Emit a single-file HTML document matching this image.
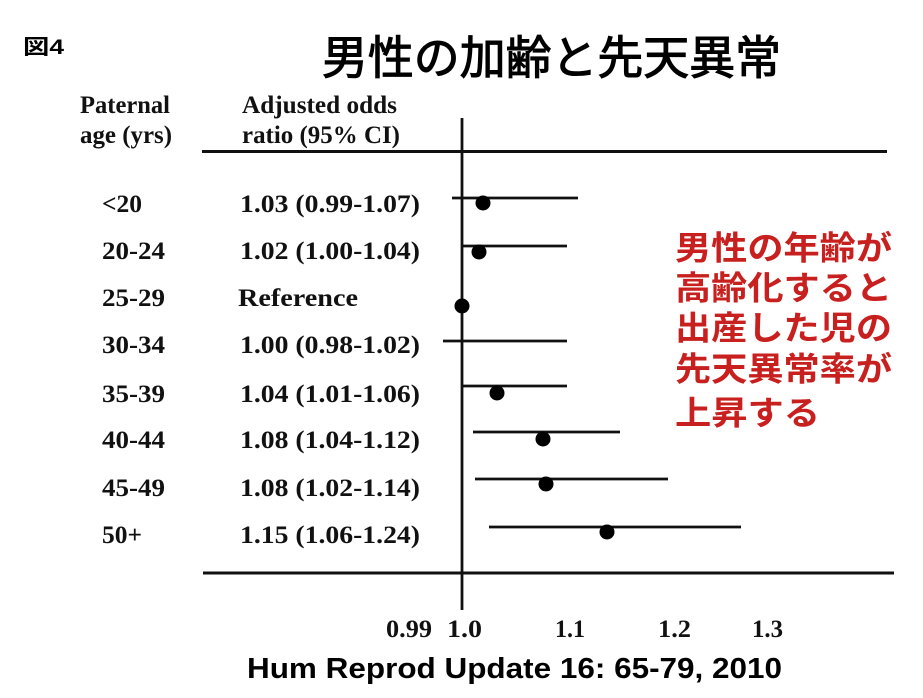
<!DOCTYPE html>
<html>
<head>
<meta charset="utf-8">
<style>
  html, body { margin:0; padding:0; background:#fff; }
  svg { display:block; }
  .serif { font-family:"Liberation Serif","Times New Roman",serif; font-weight:bold; fill:#111; }
  .sans { font-family:"Liberation Sans","Noto Sans CJK JP",sans-serif; font-weight:bold; fill:#000; }
  .jp { font-family:"Noto Sans CJK JP","Liberation Sans",sans-serif; font-weight:bold; }
  .jpr { font-family:"Noto Sans CJK JP","Liberation Sans",sans-serif; font-weight:normal; }
</style>
</head>
<body>
<svg width="923" height="698" viewBox="0 0 923 698" xmlns="http://www.w3.org/2000/svg">
  <rect width="923" height="698" fill="#fff"/>

  <!-- figure label -->
  <text class="sans" x="23" y="54" font-size="21" textLength="41" lengthAdjust="spacingAndGlyphs">図4</text>

  <!-- title -->
  <text class="jpr" x="322" y="74" font-size="46" fill="#000" stroke="#000" stroke-width="1.1" textLength="459" lengthAdjust="spacingAndGlyphs">男性の加齢と先天異常</text>

  <!-- headers -->
  <text class="serif" x="80" y="113" font-size="25" textLength="90" lengthAdjust="spacingAndGlyphs">Paternal</text>
  <text class="serif" x="80" y="143" font-size="25" textLength="92" lengthAdjust="spacingAndGlyphs">age (yrs)</text>
  <text class="serif" x="242" y="113" font-size="25" textLength="155" lengthAdjust="spacingAndGlyphs">Adjusted odds</text>
  <text class="serif" x="242" y="143" font-size="25" textLength="158" lengthAdjust="spacingAndGlyphs">ratio (95% CI)</text>

  <!-- frame lines -->
  <line x1="202" y1="151.5" x2="887" y2="151.5" stroke="#111" stroke-width="3"/>
  <line x1="203" y1="573" x2="894" y2="573" stroke="#111" stroke-width="3"/>
  <line x1="462" y1="118" x2="462" y2="610" stroke="#111" stroke-width="2.8"/>

  <!-- row labels -->
  <text class="serif" x="102" y="212" font-size="25" textLength="40" lengthAdjust="spacingAndGlyphs">&lt;20</text>
  <text class="serif" x="102" y="259" font-size="25" textLength="63" lengthAdjust="spacingAndGlyphs">20-24</text>
  <text class="serif" x="102" y="306" font-size="25" textLength="63" lengthAdjust="spacingAndGlyphs">25-29</text>
  <text class="serif" x="102" y="353" font-size="25" textLength="63" lengthAdjust="spacingAndGlyphs">30-34</text>
  <text class="serif" x="102" y="402" font-size="25" textLength="63" lengthAdjust="spacingAndGlyphs">35-39</text>
  <text class="serif" x="102" y="448" font-size="25" textLength="63" lengthAdjust="spacingAndGlyphs">40-44</text>
  <text class="serif" x="102" y="496" font-size="25" textLength="63" lengthAdjust="spacingAndGlyphs">45-49</text>
  <text class="serif" x="102" y="543" font-size="25" textLength="40" lengthAdjust="spacingAndGlyphs">50+</text>

  <!-- values -->
  <text class="serif" x="240" y="212" font-size="25" textLength="180" lengthAdjust="spacingAndGlyphs">1.03 (0.99-1.07)</text>
  <text class="serif" x="240" y="259" font-size="25" textLength="180" lengthAdjust="spacingAndGlyphs">1.02 (1.00-1.04)</text>
  <text class="serif" x="238" y="306" font-size="25" textLength="120" lengthAdjust="spacingAndGlyphs">Reference</text>
  <text class="serif" x="240" y="353" font-size="25" textLength="180" lengthAdjust="spacingAndGlyphs">1.00 (0.98-1.02)</text>
  <text class="serif" x="240" y="402" font-size="25" textLength="180" lengthAdjust="spacingAndGlyphs">1.04 (1.01-1.06)</text>
  <text class="serif" x="240" y="448" font-size="25" textLength="180" lengthAdjust="spacingAndGlyphs">1.08 (1.04-1.12)</text>
  <text class="serif" x="240" y="496" font-size="25" textLength="180" lengthAdjust="spacingAndGlyphs">1.08 (1.02-1.14)</text>
  <text class="serif" x="240" y="543" font-size="25" textLength="180" lengthAdjust="spacingAndGlyphs">1.15 (1.06-1.24)</text>

  <!-- error bars -->
  <g stroke="#111" stroke-width="2.8">
    <line x1="452" y1="198" x2="578" y2="198"/>
    <line x1="462" y1="246" x2="567" y2="246"/>
    <line x1="443" y1="341" x2="567" y2="341"/>
    <line x1="462" y1="386" x2="567" y2="386"/>
    <line x1="473" y1="432" x2="620" y2="432"/>
    <line x1="475" y1="479" x2="668" y2="479"/>
    <line x1="489" y1="527" x2="741" y2="527"/>
  </g>
  <!-- points -->
  <g fill="#000">
    <circle cx="483" cy="203" r="7.5"/>
    <circle cx="479" cy="252" r="7.5"/>
    <circle cx="462" cy="306" r="7.5"/>
    <circle cx="497" cy="393" r="7.5"/>
    <circle cx="543" cy="439" r="7.5"/>
    <circle cx="546" cy="484" r="7.5"/>
    <circle cx="607" cy="532" r="7.5"/>
  </g>

  <!-- tick labels -->
  <text class="serif" x="386" y="637" font-size="25" textLength="46" lengthAdjust="spacingAndGlyphs">0.99</text>
  <text class="serif" x="447" y="637" font-size="25" textLength="35" lengthAdjust="spacingAndGlyphs">1.0</text>
  <text class="serif" x="555" y="637" font-size="25" textLength="30" lengthAdjust="spacingAndGlyphs">1.1</text>
  <text class="serif" x="658" y="637" font-size="25" textLength="33" lengthAdjust="spacingAndGlyphs">1.2</text>
  <text class="serif" x="752" y="637" font-size="25" textLength="31" lengthAdjust="spacingAndGlyphs">1.3</text>

  <!-- citation -->
  <text class="sans" x="247" y="678" font-size="29" textLength="535" lengthAdjust="spacingAndGlyphs">Hum Reprod Update 16: 65-79, 2010</text>

  <!-- red annotation -->
  <g class="jp" fill="#c8201e" font-size="33">
    <text x="675" y="259.5" textLength="217" lengthAdjust="spacingAndGlyphs">男性の年齢が</text>
    <text x="675" y="299.5" textLength="217" lengthAdjust="spacingAndGlyphs">高齢化すると</text>
    <text x="675" y="339.5" textLength="217" lengthAdjust="spacingAndGlyphs">出産した児の</text>
    <text x="675" y="380.5" textLength="217" lengthAdjust="spacingAndGlyphs">先天異常率が</text>
    <text x="675" y="424.5" textLength="145" lengthAdjust="spacingAndGlyphs">上昇する</text>
  </g>
</svg>
</body>
</html>
